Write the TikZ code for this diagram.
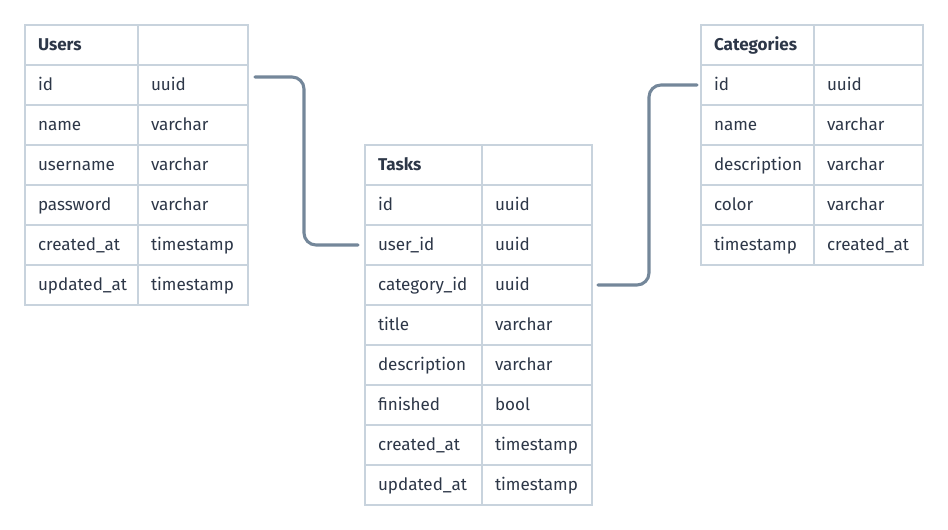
\documentclass[tikz,border=0pt]{standalone}
\usepackage{fontspec}
\setmainfont{Fira Sans}
\usepackage{xcolor}
\usetikzlibrary{positioning}

\definecolor{gridline}{HTML}{C8D3DD}
\definecolor{ink}{HTML}{2D3748}
\definecolor{linkline}{HTML}{74879A}

\tikzset{
  cell/.style={draw=gridline, line width=1.3pt, fill=white, text=ink, outer sep=0pt,
    minimum height=30pt, inner xsep=9.75pt, text width=#1, align=left,
    text height=10pt, text depth=1.4pt, font=\fontsize{12.8}{14}\selectfont},
  head/.style={cell=#1, font=\fontsize{12.8}{14}\selectfont\bfseries},
  link/.style={draw=linkline, line width=2.3pt, rounded corners=9pt, line cap=round}
}

\begin{document}
\begin{tikzpicture}[x=0.75pt, y=-0.75pt, node distance=0pt]
\useasboundingbox (0,0) rectangle (948,530);

% Users
\node[head=65.25pt, anchor=north west] (users) at (25,25) {Users};
\node[cell=63pt, right=of users] (usersb) {};
\node[cell=65.25pt, below=of users] (uid) {id};
\node[cell=63pt, right=of uid] (uidt) {uuid};
\node[cell=65.25pt, below=of uid] (uname) {name};
\node[cell=63pt, right=of uname] (unamet) {varchar};
\node[cell=65.25pt, below=of uname] (uuser) {username};
\node[cell=63pt, right=of uuser] (uusert) {varchar};
\node[cell=65.25pt, below=of uuser] (upass) {password};
\node[cell=63pt, right=of upass] (upasst) {varchar};
\node[cell=65.25pt, below=of upass] (ucre) {created\_at};
\node[cell=63pt, right=of ucre] (ucret) {timestamp};
\node[cell=65.25pt, below=of ucre] (uupd) {updated\_at};
\node[cell=63pt, right=of uupd] (uupdt) {timestamp};

% Tasks
\node[head=68.25pt, anchor=north west] (tasks) at (365,145) {Tasks};
\node[cell=63pt, right=of tasks] (tasksb) {};
\node[cell=68.25pt, below=of tasks] (tid) {id};
\node[cell=63pt, right=of tid] (tidt) {uuid};
\node[cell=68.25pt, below=of tid] (tuser) {user\_id};
\node[cell=63pt, right=of tuser] (tusert) {uuid};
\node[cell=68.25pt, below=of tuser] (tcat) {category\_id};
\node[cell=63pt, right=of tcat] (tcatt) {uuid};
\node[cell=68.25pt, below=of tcat] (ttitle) {title};
\node[cell=63pt, right=of ttitle] (ttitlet) {varchar};
\node[cell=68.25pt, below=of ttitle] (tdesc) {description};
\node[cell=63pt, right=of tdesc] (tdesct) {varchar};
\node[cell=68.25pt, below=of tdesc] (tfin) {finished};
\node[cell=63pt, right=of tfin] (tfint) {bool};
\node[cell=68.25pt, below=of tfin] (tcre) {created\_at};
\node[cell=63pt, right=of tcre] (tcret) {timestamp};
\node[cell=68.25pt, below=of tcre] (tupd) {updated\_at};
\node[cell=63pt, right=of tupd] (tupdt) {timestamp};

% Categories
\node[head=65.25pt, anchor=north west] (cats) at (701,25) {Categories};
\node[cell=62.25pt, right=of cats] (catsb) {};
\node[cell=65.25pt, below=of cats] (cid) {id};
\node[cell=62.25pt, right=of cid] (cidt) {uuid};
\node[cell=65.25pt, below=of cid] (cname) {name};
\node[cell=62.25pt, right=of cname] (cnamet) {varchar};
\node[cell=65.25pt, below=of cname] (cdesc) {description};
\node[cell=62.25pt, right=of cdesc] (cdesct) {varchar};
\node[cell=65.25pt, below=of cdesc] (ccol) {color};
\node[cell=62.25pt, right=of ccol] (ccolt) {varchar};
\node[cell=65.25pt, below=of ccol] (cstamp) {timestamp};
\node[cell=62.25pt, right=of cstamp] (cstampt) {created\_at};

% relations
\draw[link] ([xshift=5.25pt, yshift=6pt]uidt.east) -- ++(49,0) |- ([xshift=-5.25pt]tuser.west);
\draw[link] ([xshift=4.5pt]tcatt.east) -- ++(51,0) |- ([xshift=-3pt]cid.west);
\end{tikzpicture}
\end{document}
